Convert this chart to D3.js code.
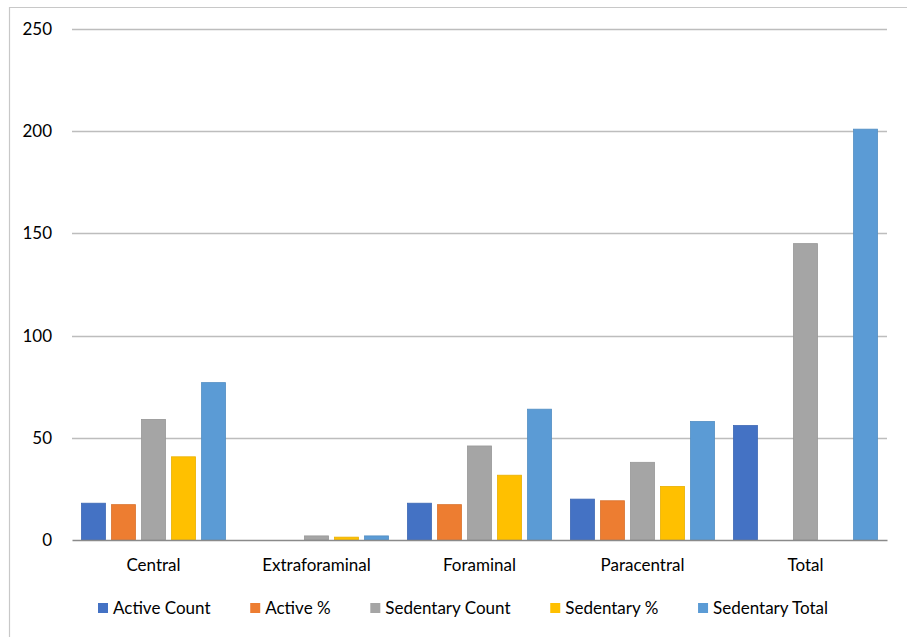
<!DOCTYPE html>
<html>
<head>
<meta charset="utf-8">
<script src="https://cdn.jsdelivr.net/npm/d3@7"></script>
<style>
  html, body { margin: 0; padding: 0; background: #fff; }
  svg { display: block; }
  text { font-family: Lato, "Open Sans", sans-serif; fill: #000; }
</style>
</head>
<body>
<svg id="chart" width="907" height="637"></svg>
<script>
// Disc herniation location by activity group
const categories = ["Central", "Extraforaminal", "Foraminal", "Paracentral", "Total"];
const seriesNames = ["Active Count", "Active %", "Sedentary Count", "Sedentary %", "Sedentary Total"];
const activeCount = [18, 0, 18, 20, 56];
const activePct = [17.3, 0, 17.3, 19.2, null];
const sedentaryCount = [59, 2, 46, 38, 145];
const sedentaryPct = [40.7, 1.4, 31.7, 26.2, null];
const sedentaryTotal = [77, 2, 64, 58, 201];
const yTicks = [0, 50, 100, 150, 200, 250];
const colors = ["#4472C4", "#ED7D31", "#A5A5A5", "#FFC000", "#5B9BD5"];

const seriesValues = [activeCount, activePct, sedentaryCount, sedentaryPct, sedentaryTotal];

const svg = d3.select("#chart");
const margin = { left: 72, right: 20, top: 29, bottom: 97 };
const width = 907, height = 637;
const plotW = width - margin.left - margin.right;
const plotH = height - margin.top - margin.bottom;
const fontFamily = "Lato, 'Open Sans', sans-serif";

// chart frame (top and left edges)
svg.append("path")
  .attr("d", `M9.5,637 V7.5 H907`)
  .attr("fill", "none")
  .attr("stroke", "#c8c8c8")
  .attr("stroke-width", 1.2);

const g = svg.append("g").attr("transform", `translate(${margin.left},${margin.top})`);

const x0 = d3.scaleBand().domain(categories).range([0, plotW]).paddingInner(0.116).paddingOuter(0.058);
const x1 = d3.scaleBand().domain(seriesNames).range([0, x0.bandwidth()]).paddingInner(0.2);
const y = d3.scaleLinear().domain([0, 250]).range([plotH, 0]);

// gridlines
g.append("g")
  .selectAll("line")
  .data(yTicks.filter(t => t > 0))
  .join("line")
  .attr("x1", 0).attr("x2", plotW)
  .attr("y1", d => Math.round(y(d)) + 0.5).attr("y2", d => Math.round(y(d)) + 0.5)
  .attr("stroke", "#bdbdbd").attr("stroke-width", 1.3);

// y axis labels
const yAxis = d3.axisLeft(y).tickValues(yTicks).tickSize(0).tickPadding(20);
g.append("g").call(yAxis)
  .call(a => a.select(".domain").remove())
  .selectAll("text")
  .attr("font-size", 17)
  .style("font-family", fontFamily);

// bars
const rows = categories.map((c, i) => ({ cat: c, vals: seriesNames.map((s, j) => ({ s, j, v: seriesValues[j][i] })) }));
const grp = g.append("g").selectAll("g")
  .data(rows)
  .join("g")
  .attr("transform", d => `translate(${x0(d.cat)},0)`);
grp.selectAll("rect")
  .data(d => d.vals.filter(v => v.v != null && v.v > 0))
  .join("rect")
  .attr("x", d => x1(d.s))
  .attr("width", x1.bandwidth())
  .attr("y", d => y(d.v))
  .attr("height", d => y(0) - y(d.v))
  .attr("fill", d => colors[d.j])
  .attr("stroke", d => d3.color(colors[d.j]).darker(0.25))
  .attr("stroke-width", 0.8);

// baseline axis
const xAxis = d3.axisBottom(x0).tickSize(0).tickPadding(19);
g.append("g").attr("transform", `translate(0,${plotH})`).call(xAxis)
  .call(a => a.select(".domain").attr("stroke", "#8a8a8a").attr("stroke-width", 1.5))
  .selectAll("text")
  .attr("font-size", 17)
  .style("font-family", fontFamily);

// legend
const legend = svg.append("g").attr("transform", `translate(0,608)`);
const items = legend.selectAll("g").data(seriesNames).join("g");
items.append("rect").attr("width", 10).attr("height", 10).attr("y", -5)
  .attr("fill", (d, i) => colors[i]);
items.append("text").attr("x", 15).attr("dy", "0.35em").attr("font-size", 17).text(d => d);
const widths = [];
items.each(function () { widths.push(this.getBBox().width); });
const legendStart = 98, legendEnd = 828;
const gap = (legendEnd - legendStart - d3.sum(widths)) / (widths.length - 1);
let pos = legendStart;
const xs = widths.map(w => { const p = pos; pos += w + gap; return p; });
items.attr("transform", (d, i) => `translate(${xs[i]},0)`);
</script>
</body>
</html>
